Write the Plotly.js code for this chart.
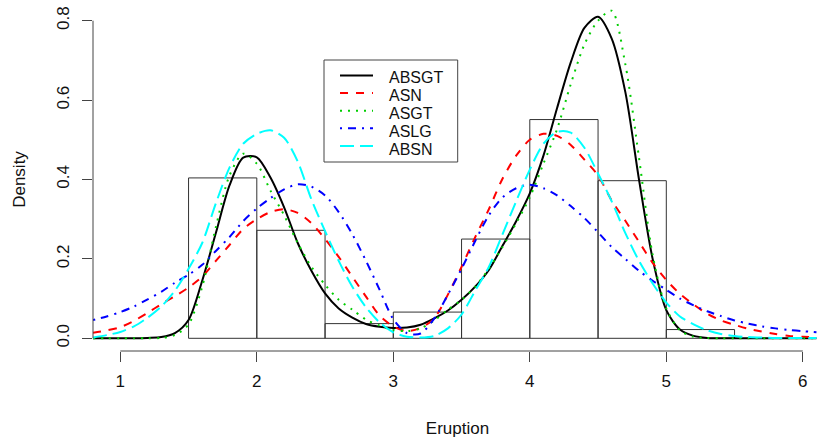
<!DOCTYPE html>
<html><head><meta charset="utf-8">
<script src="https://cdn.plot.ly/plotly-3.0.1.min.js"></script>
<style>html,body{margin:0;padding:0;background:#fff;overflow:hidden}</style>
</head><body><div id="chart" style="width:822px;height:439px"></div>
<script>
// ---- data ----
const eruption = [0.8,0.9,1.0,1.1,1.2,1.3,1.4,1.5,1.6,1.7,1.8,1.9,2.0,2.1,2.2,2.3,2.4,2.5,2.6,2.7,2.8,2.9,3.0,3.1,3.2,3.3,3.4,3.5,3.6,3.7,3.8,3.9,4.0,4.1,4.2,4.3,4.4,4.5,4.6,4.7,4.8,4.9,5.0,5.1,5.2,5.3,5.4,5.5,5.6,5.7,5.8,5.9,6.0,6.1];
const absgt = [0,0,0,0,0.001,0.003,0.013,0.046,0.145,0.265, 0.385,0.455,0.456,0.405,0.33,0.24,0.17,0.113,0.075,0.052, 0.036,0.029,0.026,0.027,0.034,0.05,0.07,0.097,0.13,0.172, 0.233,0.295,0.365,0.46,0.58,0.695,0.782,0.81,0.755,0.62, 0.40,0.20,0.071,0.022,0.006,0.001,0,0,0,0, 0,0,0,0];
const asn = [0.014,0.02,0.028,0.044,0.064,0.086,0.106,0.128,0.155,0.195, 0.235,0.275,0.30,0.318,0.325,0.316,0.29,0.25,0.205,0.155, 0.105,0.057,0.03,0.018,0.026,0.05,0.11,0.18,0.255,0.325, 0.402,0.46,0.50,0.515,0.51,0.487,0.45,0.41,0.347,0.296, 0.243,0.19,0.147,0.112,0.085,0.062,0.045,0.034,0.024,0.017, 0.011,0.006,0.004,0.002];
const asgt = [0,0,0,0,0,0.001,0.008,0.035,0.13,0.28, 0.41,0.465,0.44,0.372,0.31,0.24,0.18,0.135,0.097,0.072, 0.047,0.032,0.021,0.018,0.025,0.045,0.072,0.097,0.13,0.175, 0.23,0.29,0.355,0.44,0.527,0.64,0.74,0.80,0.825,0.69, 0.455,0.21,0.075,0.02,0.004,0.001,0,0,0,0, 0,0,0,0];
const aslg = [0.046,0.055,0.066,0.08,0.098,0.117,0.14,0.16,0.185,0.22, 0.255,0.295,0.327,0.353,0.375,0.388,0.382,0.36,0.318,0.262, 0.195,0.122,0.048,0.013,0.012,0.05,0.11,0.175,0.245,0.31, 0.355,0.378,0.387,0.378,0.36,0.333,0.303,0.267,0.23,0.2, 0.17,0.145,0.122,0.1,0.083,0.068,0.056,0.045,0.037,0.03, 0.025,0.021,0.018,0.015];
const absn = [0.002,0.008,0.016,0.03,0.052,0.08,0.12,0.175,0.24,0.34, 0.43,0.49,0.515,0.524,0.505,0.445,0.35,0.27,0.195,0.13, 0.078,0.04,0.015,0.004,0.002,0.006,0.025,0.06,0.12,0.18, 0.262,0.345,0.425,0.49,0.52,0.518,0.48,0.415,0.345,0.265, 0.195,0.138,0.09,0.055,0.035,0.02,0.011,0.006,0.003,0.002, 0.001,0.001,0.001,0.001];
const binMids = [1.75,2.25,2.75,3.25,3.75,4.25,4.75,5.25];
const binDensity = [0.404,0.272,0.037,0.066,0.25,0.551,0.397,0.022];
const seriesNames = ['ABSGT','ASN','ASGT','ASLG','ABSN'];
const xTickVals = [1,2,3,4,5,6];
const xTickText = ['1','2','3','4','5','6'];
const yTickVals = [0,0.2,0.4,0.6,0.8];
const yTickText = ['0.0','0.2','0.4','0.6','0.8'];

// ---- styling / layout ----
const series = [absgt, asn, asgt, aslg, absn];
const styles = [
  {color:'#000000', dash:'solid'},
  {color:'#ff0000', dash:'8px,8px'},
  {color:'#00cd00', dash:'2px,6px'},
  {color:'#0000ff', dash:'2px,6px,8px,6px'},
  {color:'#00ffff', dash:'14px,6px'}
];
const FONT = 'Liberation Sans, Arial, sans-serif';
const W = 822, H = 439, L = 93, R = 0, T = 8, B = 88;
const pw = W - L - R, ph = H - T - B;
const pxX = p => (p - L) / pw;
const pxY = p => (H - B - p) / ph;

const traces = [{
  type:'bar', x: binMids, y: binDensity, width: 0.5,
  marker:{color:'rgba(0,0,0,0)', line:{color:'#333333', width:1}},
  showlegend:false, hoverinfo:'skip'
}];
series.forEach((s, i) => traces.push({
  type:'scatter', mode:'lines', x: eruption, y: s, name: seriesNames[i],
  line:{color: styles[i].color, dash: styles[i].dash, width: 2, shape:'spline', smoothing: 0.8},
  showlegend:false
}));

const shapes = [
  {type:'line', xref:'paper', x0:0, x1:0, yref:'y', y0:0, y1:0.8, line:{color:'#444', width:1}},
  {type:'line', xref:'x', x0:1, x1:6, yref:'paper', y0:0, y1:0, line:{color:'#444', width:1}},
  {type:'rect', xref:'paper', yref:'paper', x0:pxX(324), x1:pxX(457.7), y0:pxY(162), y1:pxY(60),
   line:{color:'#444', width:1}, fillcolor:'#ffffff', layer:'above'}
];
const annotations = [];
seriesNames.forEach((n, i) => {
  const ry = 75.5 + 17.6 * i;
  shapes.push({type:'line', xref:'paper', yref:'paper', x0:pxX(340), x1:pxX(373), y0:pxY(ry), y1:pxY(ry),
    line:{color: styles[i].color, dash: styles[i].dash, width: 2}, layer:'above'});
  annotations.push({xref:'paper', yref:'paper', x:pxX(388), y:pxY(77 + 18.2 * i), xanchor:'left', yanchor:'middle',
    borderpad:0, text:n, showarrow:false, font:{family:FONT, size:16, color:'#111'}});
});

const layout = {
  width: W, height: H, margin:{l:L, r:R, t:T, b:B},
  paper_bgcolor:'#fff', plot_bgcolor:'#fff',
  font:{family:FONT, size:17, color:'#111'},
  showlegend:false,
  xaxis:{range:[0.8, 0.8 + pw/136.5], tickvals:xTickVals, ticktext:xTickText, ticks:'outside', ticklen:10,
    tickcolor:'#444', tickwidth:1, showline:false, showgrid:false, zeroline:false,
    tickfont:{family:FONT, size:17, color:'#111'}, ticklabelstandoff:5,
    title:{text:'Eruption', font:{family:FONT, size:17, color:'#111'}, standoff:31}},
  yaxis:{range:[-0.032, 0.832], tickvals:yTickVals, ticktext:yTickText, ticks:'outside', ticklen:10,
    tickangle:-90, tickcolor:'#444', tickwidth:1, showline:false, showgrid:false, zeroline:false,
    tickfont:{family:FONT, size:17, color:'#111'}, ticklabelstandoff:6,
    title:{text:'Density', font:{family:FONT, size:17, color:'#111'}, standoff:24}},
  shapes: shapes, annotations: annotations, bargap:0
};
Plotly.newPlot('chart', traces, layout, {staticPlot:true, displayModeBar:false});
</script></body></html>
